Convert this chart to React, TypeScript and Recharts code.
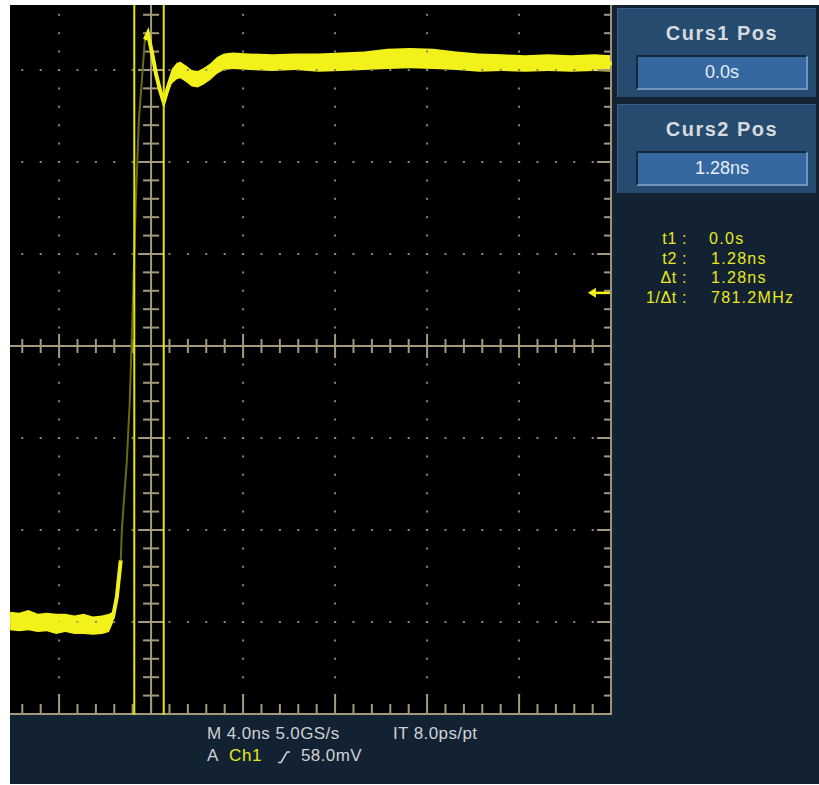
import { ComposedChart, Area, Line, XAxis, YAxis, ReferenceLine, ReferenceDot } from 'recharts'

// Ch1 step, time relative to cursor 1 (ns), level in mV
const timeNs = [
  -5.4, -5.0, -4.6, -4.2, -3.8, -3.4, -3.0, -2.6, -2.2, -1.8, -1.4, -1.1,
  -0.93, -0.76, -0.59, -0.54, -0.46, -0.33, -0.2, -0.11, 0.07, 0.2, 0.33, 0.46,
  0.59, 0.8, 0.95, 1.12, 1.28, 1.45, 1.63, 1.85, 2.0, 2.25, 2.5, 2.75, 3.0, 3.3,
  3.6, 3.9, 4.3, 5.0, 6.0, 7.0, 8.0, 9.0, 10.0, 11.0, 12.0, 13.0, 14.0, 15.0,
  16.0, 17.0, 18.0, 19.0, 20.0, 20.8,
]
const levelMv = [
  -299, -300, -298, -301, -300, -302, -301, -303, -302, -304, -303, -301,
  -295, -273, -233, -200, -171, -127, -62, 7, 159, 246, 289, 333,
  340, 315, 295, 278, 265, 280, 293, 299, 300, 296, 291, 290, 293, 298,
  305, 309, 310, 309, 308, 309, 308, 309, 310, 312, 313, 312, 310, 308,
  308, 307, 308, 307, 308, 307,
]
// half width of the noise band around the trace
const noiseMv = [
  10, 10, 11, 10, 10, 11, 10, 10, 11, 10, 10, 10,
  6, 4, 3, 0, 0, 0, 0, 0, 0, 0, 0, 3,
  4, 4, 4, 5, 6, 7, 8, 9, 9, 9, 9, 9, 9, 9,
  9, 9, 9, 9, 9, 9, 10, 10, 10, 11, 11, 11, 10, 10,
  9, 9, 9, 9, 9, 9,
]
// the fast edge gets few samples, so it shows dim
const EDGE_FROM = 14
const EDGE_TO = 23

const cursorNs = [0, 1.28]
const triggerMv = 58.0
const readoutLabels = ['t1 :', 't2 :', 'Δt :', '1/Δt :']
const readoutValues = ['0.0s', '1.28ns', '1.28ns', '781.2MHz']

// graticule: 4 ns/div, 100 mV/div, 92 px per div
const W = 602
const H = 710
const PX_NS = 23
const PX_MV = 0.92
const NS_MIN = -5.404
const NS_MAX = NS_MIN + W / PX_NS
const MV_MIN = -401.1
const MV_MAX = MV_MIN + H / PX_MV
const CENTER_NS = 0.73
const RIGHT_NS = CENTER_NS + 20
const BOTTOM_MV = -400

const TRACE = '#f2f21a'
const CURSOR = '#e6e600'
const AXIS = '#a39a7e'
const DOTS = '#8d876f'

const data = timeNs.map((t, i) => ({
  t,
  band: [levelMv[i] - noiseMv[i], levelMv[i] + noiseMv[i]],
  bright: i <= EDGE_FROM || i >= EDGE_TO ? levelMv[i] : null,
  dim: i >= EDGE_FROM && i <= EDGE_TO ? levelMv[i] : null,
}))

function seg(key: string, x1: number, y1: number, x2: number, y2: number, extra: any = {}) {
  return (
    <ReferenceLine
      key={key}
      segment={[{ x: x1, y: y1 }, { x: x2, y: y2 }]}
      ifOverflow="visible"
      stroke={AXIS}
      strokeWidth={2}
      {...extra}
    />
  )
}

function graticule() {
  const out: any[] = []
  const dotted = { stroke: DOTS, strokeWidth: 2, strokeDasharray: '2 16.4', strokeDashoffset: 1 }
  // dotted division lines, dashed outward from the centre so dots sit on the minor ticks
  for (const k of [-1, 1, 2, 3, 4]) {
    const t = CENTER_NS + k * 4
    out.push(seg(`vu${k}`, t, 0, t, MV_MAX, dotted))
    out.push(seg(`vd${k}`, t, 0, t, MV_MIN, dotted))
  }
  for (const m of [-300, -200, -100, 100, 200, 300]) {
    out.push(seg(`hr${m}`, CENTER_NS, m, NS_MAX, m, dotted))
    out.push(seg(`hl${m}`, CENTER_NS, m, NS_MIN, m, dotted))
  }
  // centre cross and frame edges
  out.push(seg('cx', NS_MIN, 0, NS_MAX, 0))
  out.push(seg('cy', CENTER_NS, MV_MIN, CENTER_NS, MV_MAX))
  out.push(seg('bx', NS_MIN, BOTTOM_MV, NS_MAX, BOTTOM_MV))
  out.push(seg('ry', RIGHT_NS, MV_MIN, RIGHT_NS, MV_MAX))
  for (let k = -7; k <= 24; k++) {
    const t = CENTER_NS + k * 0.8
    const major = k % 5 === 0
    if (k !== 0) {
      const h = (major ? 12 : 7) / PX_MV
      out.push(seg(`tx${k}`, t, -h, t, h))
    }
    const b = (major ? 20 : 10) / PX_MV
    out.push(seg(`bt${k}`, t, BOTTOM_MV, t, BOTTOM_MV + b))
  }
  for (let k = -19; k <= 18; k++) {
    const m = k * 20
    const major = k % 5 === 0
    if (k !== 0) {
      const w = (major ? 13 : 8) / PX_NS
      out.push(seg(`ty${k}`, CENTER_NS - w, m, CENTER_NS + w, m))
    }
    const r = (major ? 14 : 7) / PX_NS
    out.push(seg(`rt${k}`, RIGHT_NS - r, m, RIGHT_NS, m))
  }
  return out
}

const TriggerArrow = (props: any) => {
  const { cx, cy } = props
  return (
    <g>
      <path d={`M${cx - 11} ${cy} L${cx - 3} ${cy - 5} L${cx - 3} ${cy + 5} Z`} fill={TRACE} />
      <rect x={cx - 4} y={cy - 1} width={15} height={2.5} fill={TRACE} />
    </g>
  )
}

const panelText = '#d6dade'

function CursorBox({ top, title, value }: { top: number; title: string; value: string }) {
  return (
    <div
      style={{
        position: 'absolute', left: 617, top, width: 198, height: 88,
        background: '#254b6f', borderTop: '1px solid #3a6088', borderLeft: '1px solid #3a6088',
      }}
    >
      <div
        style={{
          position: 'absolute', left: 0, right: 0, top: 13, textAlign: 'center', paddingLeft: 10,
          font: 'bold 20px "Liberation Sans", Arial, sans-serif', letterSpacing: 1.5, color: panelText,
        }}
      >
        {title}
      </div>
      <div
        style={{
          position: 'absolute', left: 18, top: 46, width: 168, height: 31,
          background: '#3568a0',
          borderTop: '2px solid #17283a', borderLeft: '2px solid #17283a',
          borderBottom: '2px solid #6f95bd', borderRight: '2px solid #6f95bd',
          display: 'flex', alignItems: 'center', justifyContent: 'center',
          font: '18px "Liberation Sans", Arial, sans-serif', color: '#e6edf4',
        }}
      >
        {value}
      </div>
    </div>
  )
}

export default function App() {
  const font = '"Liberation Sans", Arial, sans-serif'
  return (
    <div style={{ position: 'absolute', left: 0, top: 0, width: 819, height: 785, background: '#fff', fontFamily: font }}>
      <div style={{ position: 'absolute', left: 10, top: 5, width: 809, height: 779, background: '#132232' }} />
      <div style={{ position: 'absolute', left: 10, top: 5, width: W, height: H, background: '#000' }}>
        <ComposedChart width={W} height={H} data={data} margin={{ top: 0, right: 0, bottom: 0, left: 0 }}>
          <XAxis dataKey="t" type="number" domain={[NS_MIN, NS_MAX]} hide allowDataOverflow />
          <YAxis type="number" domain={[MV_MIN, MV_MAX]} hide allowDataOverflow />
          {graticule()}
          <Area
            dataKey="band"
            type="linear"
            stroke="none"
            fill={TRACE}
            fillOpacity={1}
            isAnimationActive={false}
          />
          <Line
            dataKey="dim"
            type="linear"
            stroke="#6a6a14"
            strokeWidth={2}
            dot={false}
            isAnimationActive={false}
          />
          <Line
            dataKey="bright"
            type="linear"
            stroke={TRACE}
            strokeWidth={4}
            dot={false}
            isAnimationActive={false}
          />
          {cursorNs.map((c) => (
            <ReferenceLine key={`c${c}`} x={c} stroke={CURSOR} strokeWidth={2} ifOverflow="visible" />
          ))}
          <ReferenceDot x={20.2} y={triggerMv} r={0} ifOverflow="visible" shape={TriggerArrow} />
        </ComposedChart>
      </div>

      <CursorBox top={8} title="Curs1 Pos" value={readoutValues[0]} />
      <CursorBox top={104} title="Curs2 Pos" value={readoutValues[1]} />

      {readoutLabels.map((l, i) => (
        <div
          key={l}
          style={{
            position: 'absolute', top: 229 + i * 19.5, left: 620, width: 67, textAlign: 'right',
            fontSize: 16, lineHeight: '19.5px', color: '#e8e81e', letterSpacing: 0.6, whiteSpace: 'pre',
          }}
        >
          {l}
        </div>
      ))}
      {readoutValues.map((v, i) => (
        <div
          key={`v${i}`}
          style={{
            position: 'absolute', top: 229 + i * 19.5, left: i === 0 ? 709 : 711,
            fontSize: 16, lineHeight: '19.5px', color: '#e8e81e', letterSpacing: 1.3, whiteSpace: 'pre',
          }}
        >
          {v}
        </div>
      ))}

      <div style={{ position: 'absolute', left: 207, top: 724, fontSize: 17, lineHeight: '20px', color: '#cdd1d6', letterSpacing: 0.4, whiteSpace: 'pre' }}>
        M 4.0ns 5.0GS/s
      </div>
      <div style={{ position: 'absolute', left: 393, top: 724, fontSize: 17, lineHeight: '20px', color: '#cdd1d6', letterSpacing: 0.4, whiteSpace: 'pre' }}>
        IT 8.0ps/pt
      </div>
      <div style={{ position: 'absolute', left: 207, top: 746, fontSize: 17, lineHeight: '20px', color: '#cdd1d6', letterSpacing: 0.4, whiteSpace: 'pre' }}>
        A
      </div>
      <div style={{ position: 'absolute', left: 229, top: 746, fontSize: 17, lineHeight: '20px', color: '#e8e81e', letterSpacing: 0.6, whiteSpace: 'pre' }}>
        Ch1
      </div>
      <svg style={{ position: 'absolute', left: 278, top: 750 }} width={13} height={14}>
        <path d="M0 12.5 H3 L9 2 H12" fill="none" stroke="#cdd1d6" strokeWidth={1.6} />
      </svg>
      <div style={{ position: 'absolute', left: 301, top: 746, fontSize: 17, lineHeight: '20px', color: '#cdd1d6', letterSpacing: 0.4, whiteSpace: 'pre' }}>
        {`${triggerMv.toFixed(1)}mV`}
      </div>
    </div>
  )
}
